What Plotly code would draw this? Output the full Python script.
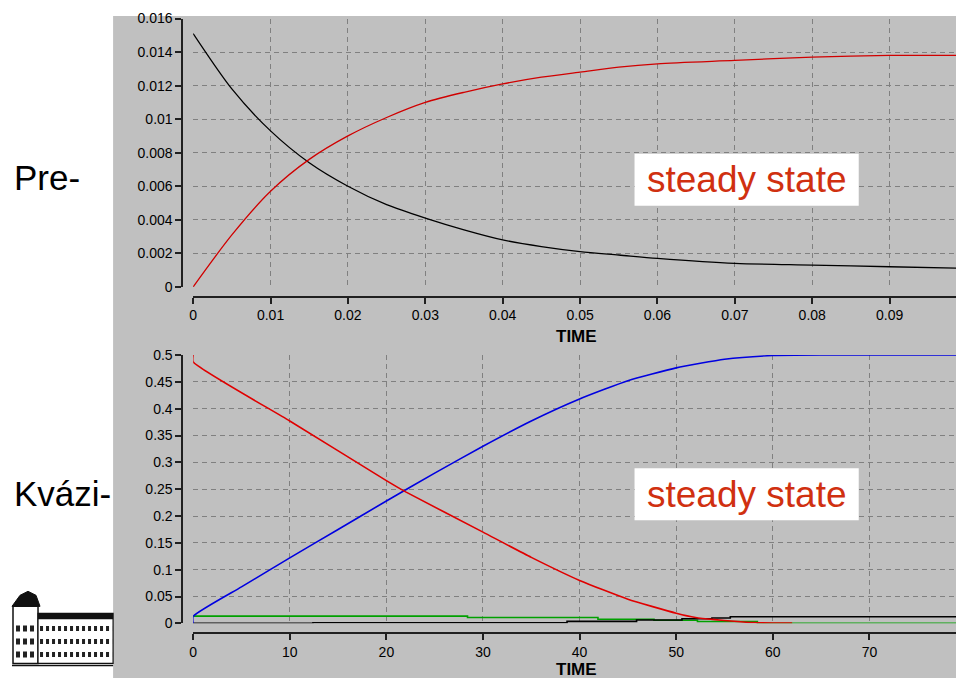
import plotly.graph_objects as go

# ---- data: top panel (pre-steady state) ----
t_top = [0, 0.005, 0.01, 0.015, 0.02, 0.025, 0.03, 0.035, 0.04, 0.045, 0.05, 0.055, 0.06, 0.07, 0.08, 0.09, 0.1]
top_black = [0.0151, 0.0118, 0.0093, 0.0074, 0.0060, 0.0049, 0.0041, 0.0034, 0.0028, 0.0024, 0.0021, 0.0019, 0.0017, 0.0014, 0.0013, 0.0012, 0.0011]
top_red = [0.0, 0.0031, 0.0057, 0.0076, 0.0090, 0.0101, 0.0110, 0.0116, 0.0121, 0.0125, 0.0128, 0.0131, 0.0133, 0.0135, 0.0137, 0.0138, 0.0138]

# ---- data: bottom panel (quasi-steady state) ----
t_blue = [0, 0, 5, 10, 15, 20, 25, 30, 35, 40, 45, 50, 55, 60, 65, 70, 80]
bot_blue = [0, 0.013, 0.068, 0.122, 0.175, 0.228, 0.28, 0.33, 0.377, 0.418, 0.452, 0.476, 0.492, 0.499, 0.5, 0.5, 0.5]
t_red = [0, 0, 10, 20, 22, 30, 35, 40, 45, 50, 52, 54, 56, 58, 60, 62]
bot_red = [0.5, 0.487, 0.377, 0.266, 0.245, 0.17, 0.123, 0.08, 0.045, 0.019, 0.011, 0.007, 0.004, 0.0015, 0.0006, 0.0006]
t_green = [0, 28.4, 41.9, 47.7, 52.2, 58.4, 80]
bot_green = [0.0135, 0.011, 0.0078, 0.0058, 0.0035, 0.0003, 0.0003]
t_black = [0, 12.4, 38.7, 45.9, 50.6, 53.7, 55.6, 80]
bot_black = [0, 0.0012, 0.0037, 0.0062, 0.0087, 0.0100, 0.0124, 0.0124]

top_xticks = [0, 0.01, 0.02, 0.03, 0.04, 0.05, 0.06, 0.07, 0.08, 0.09, 0.1]
top_xlabels = ["0", "0.01", "0.02", "0.03", "0.04", "0.05", "0.06", "0.07", "0.08", "0.09", "0.1"]
top_yticks = [0, 0.002, 0.004, 0.006, 0.008, 0.01, 0.012, 0.014, 0.016]
top_ylabels = ["0", "0.002", "0.004", "0.006", "0.008", "0.01", "0.012", "0.014", "0.016"]
bot_xticks = [0, 10, 20, 30, 40, 50, 60, 70, 80]
bot_yticks = [0, 0.05, 0.1, 0.15, 0.2, 0.25, 0.3, 0.35, 0.4, 0.45, 0.5]
bot_ylabels = ["0", "0.05", "0.1", "0.15", "0.2", "0.25", "0.3", "0.35", "0.4", "0.45", "0.5"]

W, H = 964, 678

# map a target screen pixel to paper coordinates (compensates page offset/scale)
def X(x):
    return max(0.0, min(1.0, ((x - 12.0) / 0.995) / W))
def Y(y):
    return max(0.0, min(1.0, 1 - ((y - 15.5) / 0.975) / H))

GRAY = "#c0c0c0"
GRID = "#808080"
FONT = "Liberation Sans, Arial, sans-serif"
tickfont = dict(family=FONT, size=14, color="#000000")

fig = go.Figure()
fig.add_trace(go.Scatter(x=t_top, y=top_black, mode="lines", line=dict(color="#000000", width=1.3, shape="spline", smoothing=0.8), xaxis="x", yaxis="y"))
fig.add_trace(go.Scatter(x=t_top, y=top_red, mode="lines", line=dict(color="#d00000", width=1.3, shape="spline", smoothing=0.8), xaxis="x", yaxis="y"))
fig.add_trace(go.Scatter(x=t_green, y=bot_green, mode="lines", line=dict(color="#00a000", width=1.6, shape="hv"), xaxis="x2", yaxis="y2"))
fig.add_trace(go.Scatter(x=t_black, y=bot_black, mode="lines", line=dict(color="#000000", width=1.6, shape="hv"), xaxis="x2", yaxis="y2"))
fig.add_trace(go.Scatter(x=t_blue, y=bot_blue, mode="lines", line=dict(color="#0000e0", width=1.6, shape="spline", smoothing=0.5), xaxis="x2", yaxis="y2"))
fig.add_trace(go.Scatter(x=t_red, y=bot_red, mode="lines", line=dict(color="#e00000", width=1.6, shape="spline", smoothing=0.5), xaxis="x2", yaxis="y2"))

axis_common = dict(showgrid=True, gridcolor=GRID, griddash="5px,4px", gridwidth=1, zeroline=False,
                   showline=True, linecolor="#202020", linewidth=1.5, ticks="outside",
                   ticklen=6, tickcolor="#202020", tickwidth=1.5, tickfont=tickfont)

fig.update_layout(
    width=W, height=H, margin=dict(l=0, r=0, t=0, b=0),
    paper_bgcolor="white", plot_bgcolor=GRAY, showlegend=False,
    xaxis=dict(domain=[X(193), 959 / W], range=[0, 0.1], anchor="free", position=Y(296),
               tickvals=top_xticks, ticktext=top_xlabels, **axis_common),
    yaxis=dict(domain=[Y(286), Y(18)], range=[0, 0.016], anchor="free", position=X(182),
               tickvals=top_yticks, ticktext=top_ylabels, **axis_common),
    xaxis2=dict(domain=[X(193), 958 / W], range=[0, 80], anchor="free", position=Y(632),
                tickvals=bot_xticks, **axis_common),
    yaxis2=dict(domain=[Y(622), Y(354)], range=[0, 0.5], anchor="free", position=X(182),
                tickvals=bot_yticks, ticktext=bot_ylabels, **axis_common),
)

shapes = [
    dict(type="rect", xref="paper", yref="paper", x0=X(113), x1=1.0, y0=0, y1=1.0,
         fillcolor=GRAY, line=dict(width=0), layer="below"),
    dict(type="rect", xref="paper", yref="paper", x0=X(634), x1=X(858), y0=Y(205), y1=Y(153),
         fillcolor="white", line=dict(width=0), layer="above"),
    dict(type="rect", xref="paper", yref="paper", x0=X(634), x1=X(858), y0=Y(519), y1=Y(467),
         fillcolor="white", line=dict(width=0), layer="above"),
]

# small building logo (decoration) at bottom-left
logo = [
    dict(type="path", xref="paper", yref="paper",
         path=f"M {X(12)} {Y(605)} L {X(20)} {Y(594)} L {X(28)} {Y(590)} L {X(36)} {Y(594)} L {X(40)} {Y(605)} Z",
         fillcolor="#111111", line=dict(color="#111111", width=1)),
    dict(type="rect", xref="paper", yref="paper", x0=X(13), x1=X(38), y0=Y(662), y1=Y(605),
         fillcolor="white", line=dict(color="#111111", width=1.5)),
    dict(type="rect", xref="paper", yref="paper", x0=X(38), x1=X(113), y0=Y(662), y1=Y(612),
         fillcolor="white", line=dict(color="#111111", width=1.2)),
    dict(type="rect", xref="paper", yref="paper", x0=X(38), x1=X(113), y0=Y(618), y1=Y(612),
         fillcolor="#111111", line=dict(width=0)),
    dict(type="line", xref="paper", yref="paper", x0=X(9), x1=X(113), y0=Y(664), y1=Y(664),
         line=dict(color="#111111", width=1.5)),
]
for yy in (627, 640, 653):
    logo.append(dict(type="line", xref="paper", yref="paper", x0=X(40), x1=X(112), y0=Y(yy), y1=Y(yy),
                     line=dict(color="#222222", width=5, dash="3px,3px")))
    logo.append(dict(type="line", xref="paper", yref="paper", x0=X(16), x1=X(36), y0=Y(yy), y1=Y(yy),
                     line=dict(color="#222222", width=6, dash="4px,3px")))
fig.update_layout(shapes=shapes + logo)

ann_font = dict(family=FONT, size=37, color="#d03010")
side_font = dict(family=FONT, size=35, color="#000000")
bold_font = dict(family=FONT, size=17, color="#000000")
annotations = [
    dict(x=X(746), y=Y(179), xref="paper", yref="paper", xanchor="center", yanchor="middle",
         text="steady state", showarrow=False, font=ann_font),
    dict(x=X(746), y=Y(493), xref="paper", yref="paper", xanchor="center", yanchor="middle",
         text="steady state", showarrow=False, font=ann_font),
    dict(x=X(12), y=Y(177), xref="paper", yref="paper", xanchor="left", yanchor="middle",
         text="Pre-", showarrow=False, font=side_font),
    dict(x=X(0), y=Y(492), xref="paper", yref="paper", xanchor="left", yanchor="middle",
         text="Kvázi-", showarrow=False, font=side_font),
    dict(x=X(576), y=Y(336), xref="paper", yref="paper", xanchor="center", yanchor="middle",
         text="<b>TIME</b>", showarrow=False, font=bold_font),
    dict(x=X(576), y=Y(668), xref="paper", yref="paper", xanchor="center", yanchor="middle",
         text="<b>TIME</b>", showarrow=False, font=bold_font),
]
fig.update_layout(annotations=annotations)

fig.write_html("out.html")
